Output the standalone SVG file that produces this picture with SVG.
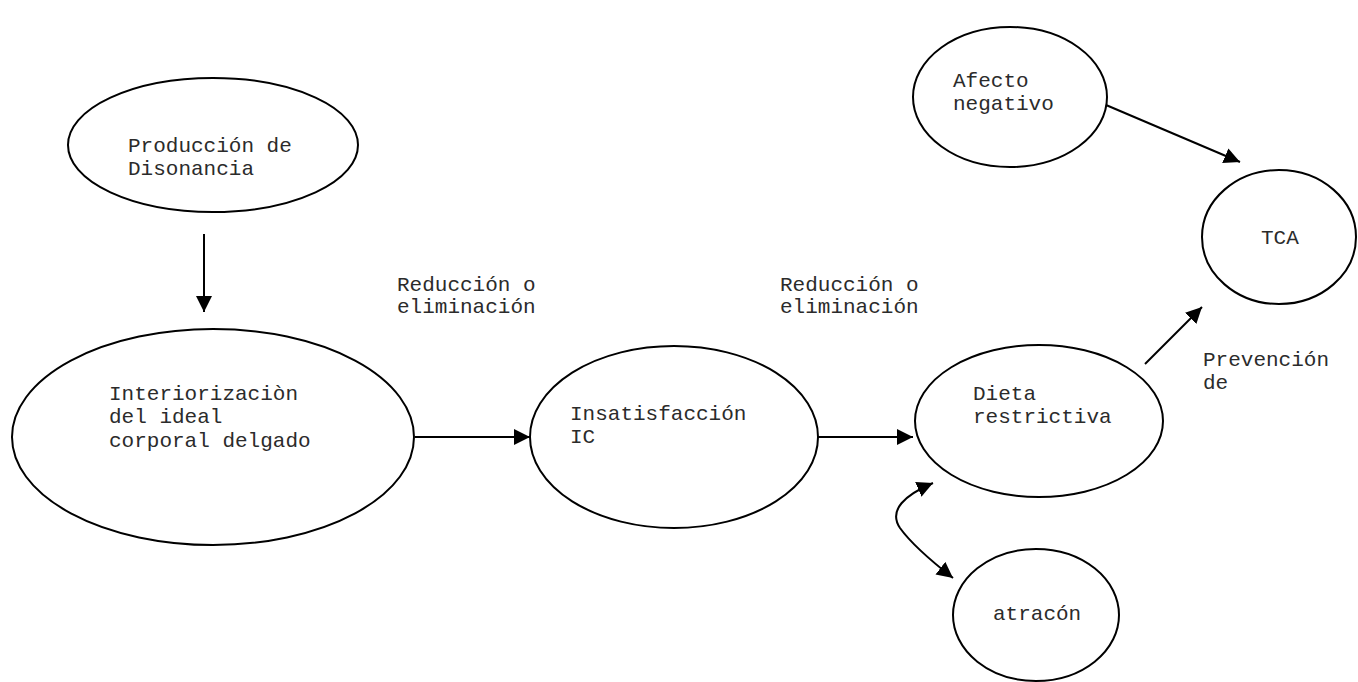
<svg xmlns="http://www.w3.org/2000/svg" width="1358" height="682" viewBox="0 0 1358 682">
  <style>
    .node { fill: #ffffff; stroke: #000000; stroke-width: 2; }
    .lbl { font-family: "Liberation Mono", "Courier New", monospace; font-size: 21px; fill: #2b2b2b; }
    .edge { fill: none; stroke: #000000; stroke-width: 2; }
  </style>
  <defs>
    <marker id="arrow" markerUnits="userSpaceOnUse" markerWidth="18" markerHeight="17" refX="16" refY="8" orient="auto-start-reverse">
      <path d="M0,0 L16,8 L0,16 z" fill="#000000"/>
    </marker>
  </defs>
  <rect width="1358" height="682" fill="#ffffff"/>

  <g id="produccion">
    <ellipse class="node" cx="213" cy="145" rx="145" ry="67"/>
    <text class="lbl" x="128" y="152">Producción de</text>
    <text class="lbl" x="128" y="175">Disonancia</text>
  </g>

  <g id="interiorizacion">
    <ellipse class="node" cx="213" cy="437" rx="201" ry="108"/>
    <text class="lbl" x="109" y="400">Interiorizaciòn</text>
    <text class="lbl" x="109" y="423">del ideal</text>
    <text class="lbl" x="109" y="447">corporal delgado</text>
  </g>

  <g id="insatisfaccion">
    <ellipse class="node" cx="674" cy="437" rx="144" ry="91"/>
    <text class="lbl" x="570" y="420">Insatisfacción</text>
    <text class="lbl" x="570" y="443">IC</text>
  </g>

  <g id="dieta">
    <ellipse class="node" cx="1039" cy="421" rx="124" ry="76"/>
    <text class="lbl" x="973" y="400">Dieta</text>
    <text class="lbl" x="973" y="423">restrictiva</text>
  </g>

  <g id="afecto">
    <ellipse class="node" cx="1010" cy="97" rx="97" ry="70"/>
    <text class="lbl" x="953" y="87">Afecto</text>
    <text class="lbl" x="953" y="110">negativo</text>
  </g>

  <g id="tca">
    <ellipse class="node" cx="1279" cy="237" rx="77" ry="67"/>
    <text class="lbl" x="1261" y="244">TCA</text>
  </g>

  <g id="atracon">
    <ellipse class="node" cx="1036" cy="615" rx="83" ry="66"/>
    <text class="lbl" x="993" y="620">atracón</text>
  </g>

  <g id="labels">
    <text class="lbl" x="397" y="291">Reducción o</text>
    <text class="lbl" x="397" y="313">eliminación</text>
    <text class="lbl" x="780" y="291">Reducción o</text>
    <text class="lbl" x="780" y="313">eliminación</text>
    <text class="lbl" x="1203" y="366">Prevención</text>
    <text class="lbl" x="1203" y="389">de</text>
  </g>

  <g id="connectors">
    <line class="edge" x1="204" y1="234" x2="204" y2="312" marker-end="url(#arrow)"/>
    <line class="edge" x1="415" y1="437" x2="530" y2="437" marker-end="url(#arrow)"/>
    <line class="edge" x1="818" y1="437" x2="913" y2="437" marker-end="url(#arrow)"/>
    <line class="edge" x1="1106" y1="105" x2="1240" y2="162" marker-end="url(#arrow)"/>
    <line class="edge" x1="1145" y1="364" x2="1202" y2="307" marker-end="url(#arrow)"/>
    <path class="edge" d="M933,483 C905,495 888,510 900,528 C910,542 930,560 953,578" marker-start="url(#arrow)" marker-end="url(#arrow)"/>
  </g>
</svg>
